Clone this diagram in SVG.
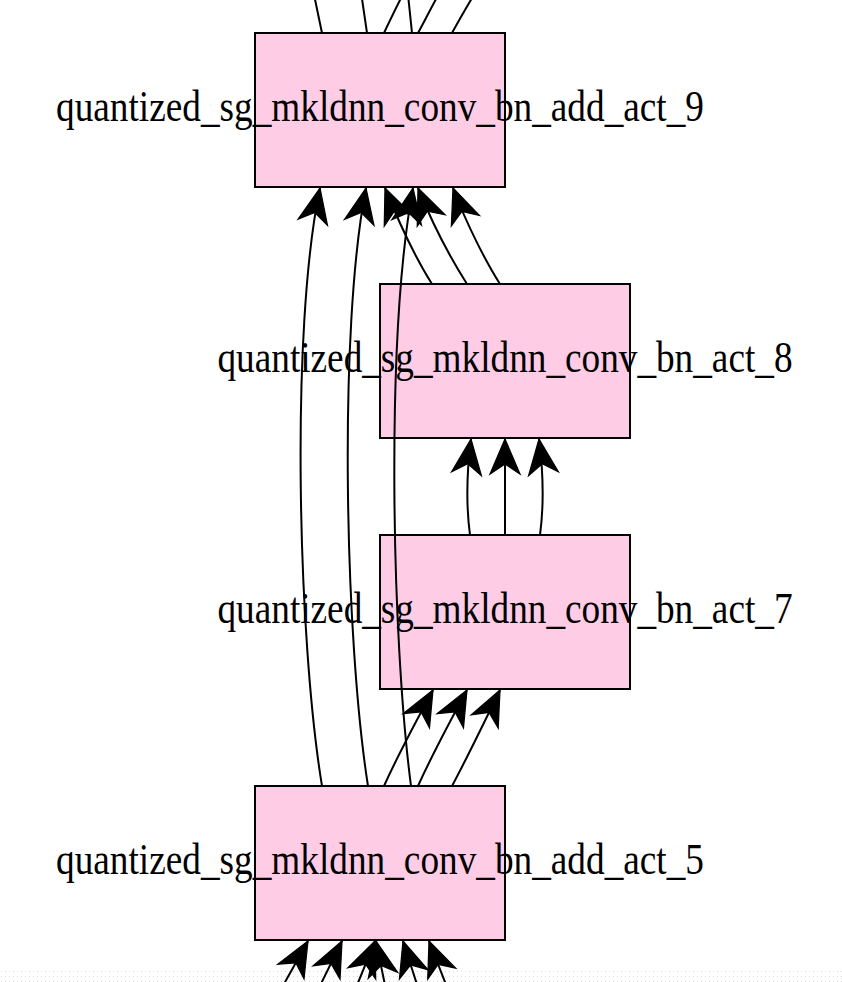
<svg xmlns="http://www.w3.org/2000/svg" width="842" height="982" viewBox="0 0 842 982">
<defs>
<style>
.node rect{fill:#ffcce6;stroke:#000;stroke-width:2}
.node text{font-family:"Liberation Serif","Times New Roman",serif;font-size:44px;fill:#000;text-anchor:middle}
.edges path{fill:none;stroke:#000;stroke-width:2}
.arr{marker-end:url(#vee)}
</style>
<marker id="vee" markerUnits="userSpaceOnUse" markerWidth="40" markerHeight="40" viewBox="-30 -15 32 30" refX="0" refY="0" orient="auto">
<path d="M0,0 L-28,-12 L-20,0 L-28,12 Z" fill="#000" stroke="#000" stroke-width="1"/>
</marker>
<pattern id="dots" width="4" height="5" patternUnits="userSpaceOnUse">
<rect x="1" y="1" width="1" height="1" fill="#d9d9d9"/>
</pattern>
</defs>
<rect x="0" y="0" width="842" height="982" fill="#fff"/>
<rect x="0" y="969" width="842" height="13" fill="url(#dots)"/>
<g id="n9" class="node">
<rect x="255" y="33" width="250" height="154"/>
<text x="380" y="121" textLength="648" lengthAdjust="spacingAndGlyphs">quantized_sg_mkldnn_conv_bn_add_act_9</text>
</g>
<g id="n8" class="node">
<rect x="380" y="284" width="250" height="154"/>
<text x="505" y="372" textLength="575" lengthAdjust="spacingAndGlyphs">quantized_sg_mkldnn_conv_bn_act_8</text>
</g>
<g id="n7" class="node">
<rect x="380" y="535" width="250" height="154"/>
<text x="505" y="623" textLength="575" lengthAdjust="spacingAndGlyphs">quantized_sg_mkldnn_conv_bn_act_7</text>
</g>
<g id="n5" class="node">
<rect x="255" y="786" width="250" height="154"/>
<text x="380" y="874" textLength="648" lengthAdjust="spacingAndGlyphs">quantized_sg_mkldnn_conv_bn_add_act_5</text>
</g>
<g id="edges" class="edges">
<path d="M322,33 L312,-15"/>
<path d="M367,33 L360,-15"/>
<path d="M384,33 C390,20 396,8 406,-12"/>
<path d="M412,33 L407,-15"/>
<path d="M418,33 C424,22 430,10 442,-12"/>
<path d="M452,33 C458,22 466,8 478,-12"/>
<path class="arr" d="M432,284 C418,262 400,225 385,188"/>
<path class="arr" d="M467,284 C453,262 433,225 418,188"/>
<path class="arr" d="M500,284 C486,262 467,225 453,188"/>
<path class="arr" d="M322,786 C298,640 290,330 320,188"/>
<path class="arr" d="M368,786 C345,640 338,330 366,188"/>
<path class="arr" d="M411,786 C392,640 385,340 413,188"/>
<path class="arr" d="M470,535 C466,505 467,470 471,439"/>
<path class="arr" d="M505,535 L505,439"/>
<path class="arr" d="M540,535 C544,505 543,470 539,439"/>
<path class="arr" d="M384,786 C398,755 414,725 433,690"/>
<path class="arr" d="M418,786 C432,755 448,725 467,690"/>
<path class="arr" d="M452,786 C466,760 483,725 500,690"/>
<path class="arr" d="M275,1000 L308,941"/>
<path class="arr" d="M313,1000 L342,941"/>
<path class="arr" d="M351,1000 L375,941"/>
<path class="arr" d="M388,1000 L376,941"/>
<path class="arr" d="M422,1000 L403,941"/>
<path class="arr" d="M452,1000 L429,941"/>
</g>
</svg>
